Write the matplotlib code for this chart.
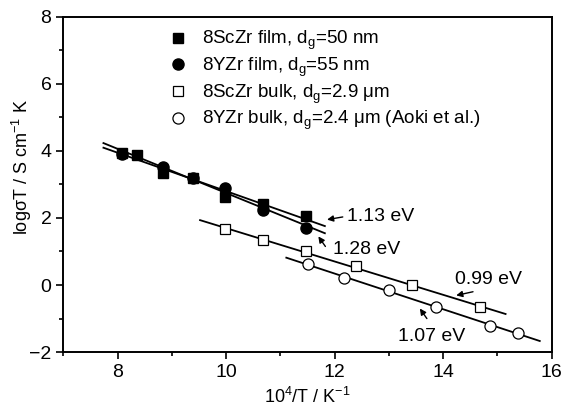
import numpy as np
import matplotlib
matplotlib.use('Agg')
import matplotlib.pyplot as plt
from matplotlib.ticker import MultipleLocator

plt.rcParams['font.family'] = ['Liberation Sans', 'DejaVu Sans']
plt.rcParams['mathtext.fontset'] = 'custom'
plt.rcParams['mathtext.rm'] = 'Liberation Sans'
plt.rcParams['mathtext.it'] = 'Liberation Sans:italic'

# 10^4/T values and log(sigma T)
sc_film_x = [8.08, 8.35, 8.84, 9.39, 9.98, 10.68, 11.47]
sc_film_y = [3.94, 3.87, 3.33, 3.19, 2.63, 2.43, 2.05]
y_film_x = [8.08, 8.84, 9.39, 9.98, 10.68, 11.47]
y_film_y = [3.92, 3.52, 3.19, 2.90, 2.25, 1.71]
sc_bulk_x = [9.98, 10.68, 11.47, 12.40, 13.43, 14.67]
sc_bulk_y = [1.68, 1.33, 1.00, 0.56, -0.01, -0.66]
y_bulk_x = [11.51, 12.18, 13.00, 13.86, 14.86, 15.37]
y_bulk_y = [0.62, 0.20, -0.14, -0.66, -1.22, -1.42]

labels = ['8ScZr film, d$_\\mathregular{g}$=50 nm',
          '8YZr film, d$_\\mathregular{g}$=55 nm',
          '8ScZr bulk, d$_\\mathregular{g}$=2.9 \u03bcm',
          '8YZr bulk, d$_\\mathregular{g}$=2.4 \u03bcm (Aoki et al.)']
energies = ['1.13 eV', '1.28 eV', '0.99 eV', '1.07 eV']
# x extent of each Arrhenius fit line
fit_ranges = [(7.74, 11.82), (7.74, 11.82), (9.52, 15.15), (11.11, 15.78)]

fig = plt.figure(figsize=(5.64, 4.08), dpi=100)
ax = fig.add_axes([0.1122, 0.137, 0.866, 0.822])

series = [(sc_film_x, sc_film_y), (y_film_x, y_film_y),
          (sc_bulk_x, sc_bulk_y), (y_bulk_x, y_bulk_y)]
styles = [dict(marker='s', ms=7, mfc='black', mec='black'),
          dict(marker='o', ms=8, mfc='black', mec='black'),
          dict(marker='s', ms=7, mfc='white', mec='black', mew=0.9),
          dict(marker='o', ms=8, mfc='white', mec='black', mew=0.9)]

for (xs, ys), st, lab, rng in zip(series, styles, labels, fit_ranges):
    p = np.polyfit(xs, ys, 1)
    xl = np.array(rng)
    ax.plot(xl, np.polyval(p, xl), color='black', lw=1.3, zorder=2)
    ax.plot(xs, ys, ls='none', label=lab, zorder=3, **st)

# activation energy labels with arrows
ann = [((12.22, 2.03), (11.86, 1.95)),
       ((11.97, 1.07), (11.70, 1.45)),
       ((14.21, 0.17), (14.24, -0.31)),
       ((13.17, -1.52), (13.57, -0.70))]
arrow_tail = [(12.15, 2.03), (11.83, 1.15), (14.55, -0.2), (13.7, -1.0)]
for txt, (tpos, head), tail in zip(energies, ann, arrow_tail):
    ax.text(tpos[0], tpos[1], txt, fontsize=14, va='center', ha='left')
    ax.annotate('', xy=head, xytext=tail,
                arrowprops=dict(arrowstyle='-|>', color='black', lw=1.0,
                                mutation_scale=9, shrinkA=0, shrinkB=0))

ax.set_xlim(7, 16)
ax.set_ylim(-2, 8)
ax.xaxis.set_major_locator(MultipleLocator(2))
ax.xaxis.set_minor_locator(MultipleLocator(1))
ax.yaxis.set_major_locator(MultipleLocator(2))
ax.yaxis.set_minor_locator(MultipleLocator(1))
ax.tick_params(which='both', direction='out', top=False, right=False,
               labelsize=14, width=1.2)
ax.tick_params(which='major', length=5)
ax.tick_params(which='minor', length=3)
for s in ax.spines.values():
    s.set_linewidth(1.4)

ax.set_xlabel('10$^\\mathregular{4}$/T / K$^\\mathregular{-1}$', fontsize=13, labelpad=4)
ax.set_ylabel('log\u03c3T / S cm$^\\mathregular{-1}$ K', fontsize=13)
ax.yaxis.set_label_coords(-0.06, 0.552)

ax.legend(loc='upper left', bbox_to_anchor=(0.2, 0.985), frameon=False,
          fontsize=13.5, handlelength=1.0, handletextpad=0.8,
          labelspacing=0.18, borderaxespad=0)

fig.savefig('out.png', dpi=100)
